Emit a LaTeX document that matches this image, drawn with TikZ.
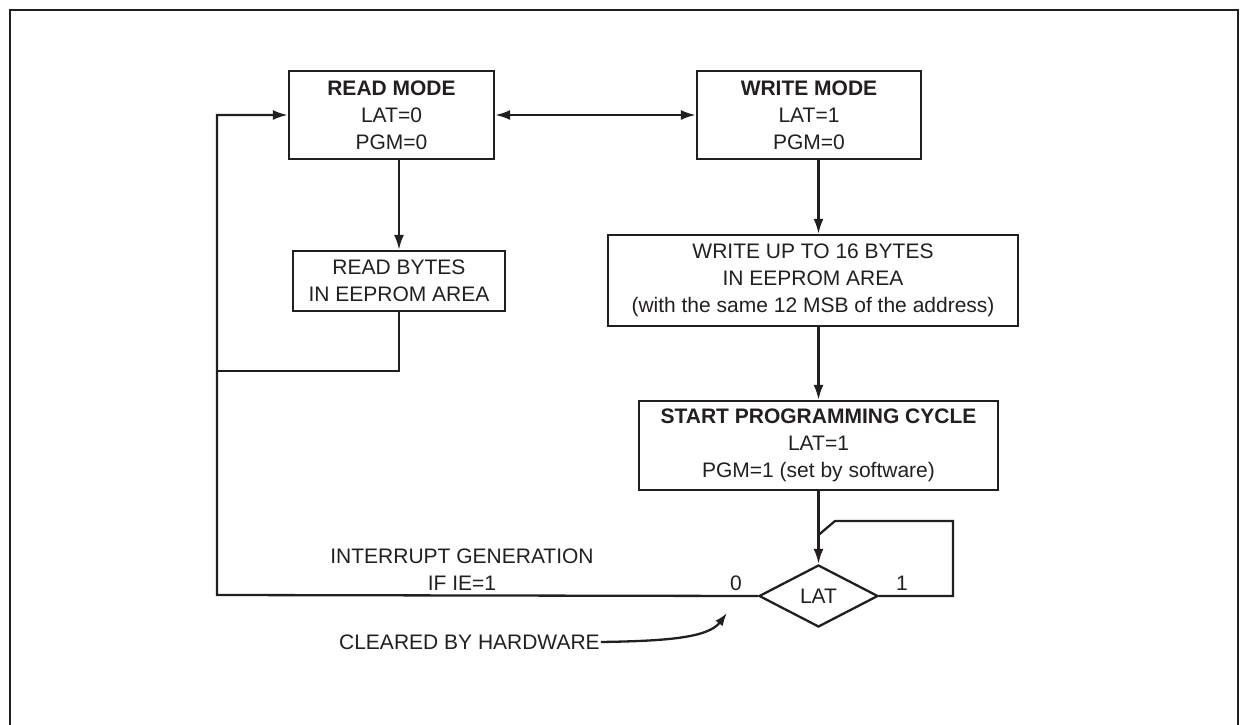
\documentclass[tikz,border=0pt]{standalone}
\usepackage{fontspec}
\setmainfont{Liberation Sans}
\usepackage{tikz}
\usetikzlibrary{arrows.meta}
\usetikzlibrary{positioning, shapes.geometric}
\definecolor{ink}{RGB}{35,31,32}

\begin{document}
\begin{tikzpicture}[x=1pt,y=-1pt,
  ink, line width=2.3pt,
  txt/.style={font=\fontsize{21}{27}\selectfont, text=ink, align=center},
  modebox/.style={txt, draw, inner sep=0pt},
  test/.style={txt, draw, diamond, inner sep=0pt, minimum width=119pt, minimum height=62pt},
  arr/.style={-{Latex[length=15pt,width=10pt]}},
  arrtwo/.style={{Latex[length=15pt,width=10pt]}-{Latex[length=15pt,width=10pt]}}]
  \useasboundingbox (0,0) rectangle (1240,725);
  \draw[line width=2.7pt] (10,760) -- (10,10) -- (1238,10) -- (1238,760);

  \node[modebox,minimum width=205pt,minimum height=88pt] (readmode) at (391.5,115)
    {\textbf{READ MODE}\\LAT=0\\PGM=0};
  \node[modebox,minimum width=224pt,minimum height=88pt] (writemode) at (809,115)
    {\textbf{WRITE MODE}\\LAT=1\\PGM=0};
  \node[modebox,minimum width=212pt,minimum height=60pt] (readbytes) at (399,281)
    {READ BYTES\\IN EEPROM AREA};
  \node[modebox,minimum width=410pt,minimum height=91pt] (writeup) at (813,280.5)
    {WRITE UP TO 16 BYTES\\IN EEPROM AREA\\(with the same 12 MSB of the address)};
  \node[modebox,minimum width=359pt,minimum height=89pt] (start) at (818.5,445.5)
    {\textbf{START PROGRAMMING CYCLE}\\LAT=1\\PGM=1 (set by software)};
  \node[test] (lat) at (818.5,596) {LAT};

  \node[txt] (zero) at (736,583) {0};
  \node[txt] (one) at (902,583) {1};
  \node[txt] (irq) at (462,570) {INTERRUPT GENERATION\\IF IE=1};
  \node[txt,anchor=west,inner sep=0pt] (cleared) at (338,642) {CLEARED BY HARDWARE};

  \coordinate (loopL) at (217,595);
  \coordinate (join) at (217,371);
  \coordinate (loopR) at (953,521);
  \coordinate (loopT) at (835,521);
  \coordinate (merge) at (818.5,535);

  % read side
  \draw[arrtwo] (readmode.east) -- (writemode.west);
  \draw[arr] (readmode.south -| readbytes.north) -- (readbytes.north);
  \draw (readbytes.south) |- (join);
  \draw[arr] (lat.west) -- (loopL) |- (readmode.west);

  % write side
  \draw[arr] (writemode.south -| start.north) -- (writeup.north -| start.north);
  \draw[arr] (writeup.south -| start.north) -- (start.north);
  \draw[arr] (start.south) -- (lat.north);
  \draw (lat.east) -| (loopR) -- (loopT) -- (merge);

  \draw[-{Latex[length=13pt,width=9pt]}] (cleared.east) .. controls (665,641) and (708,638) .. (727,613);
\end{tikzpicture}
\end{document}
